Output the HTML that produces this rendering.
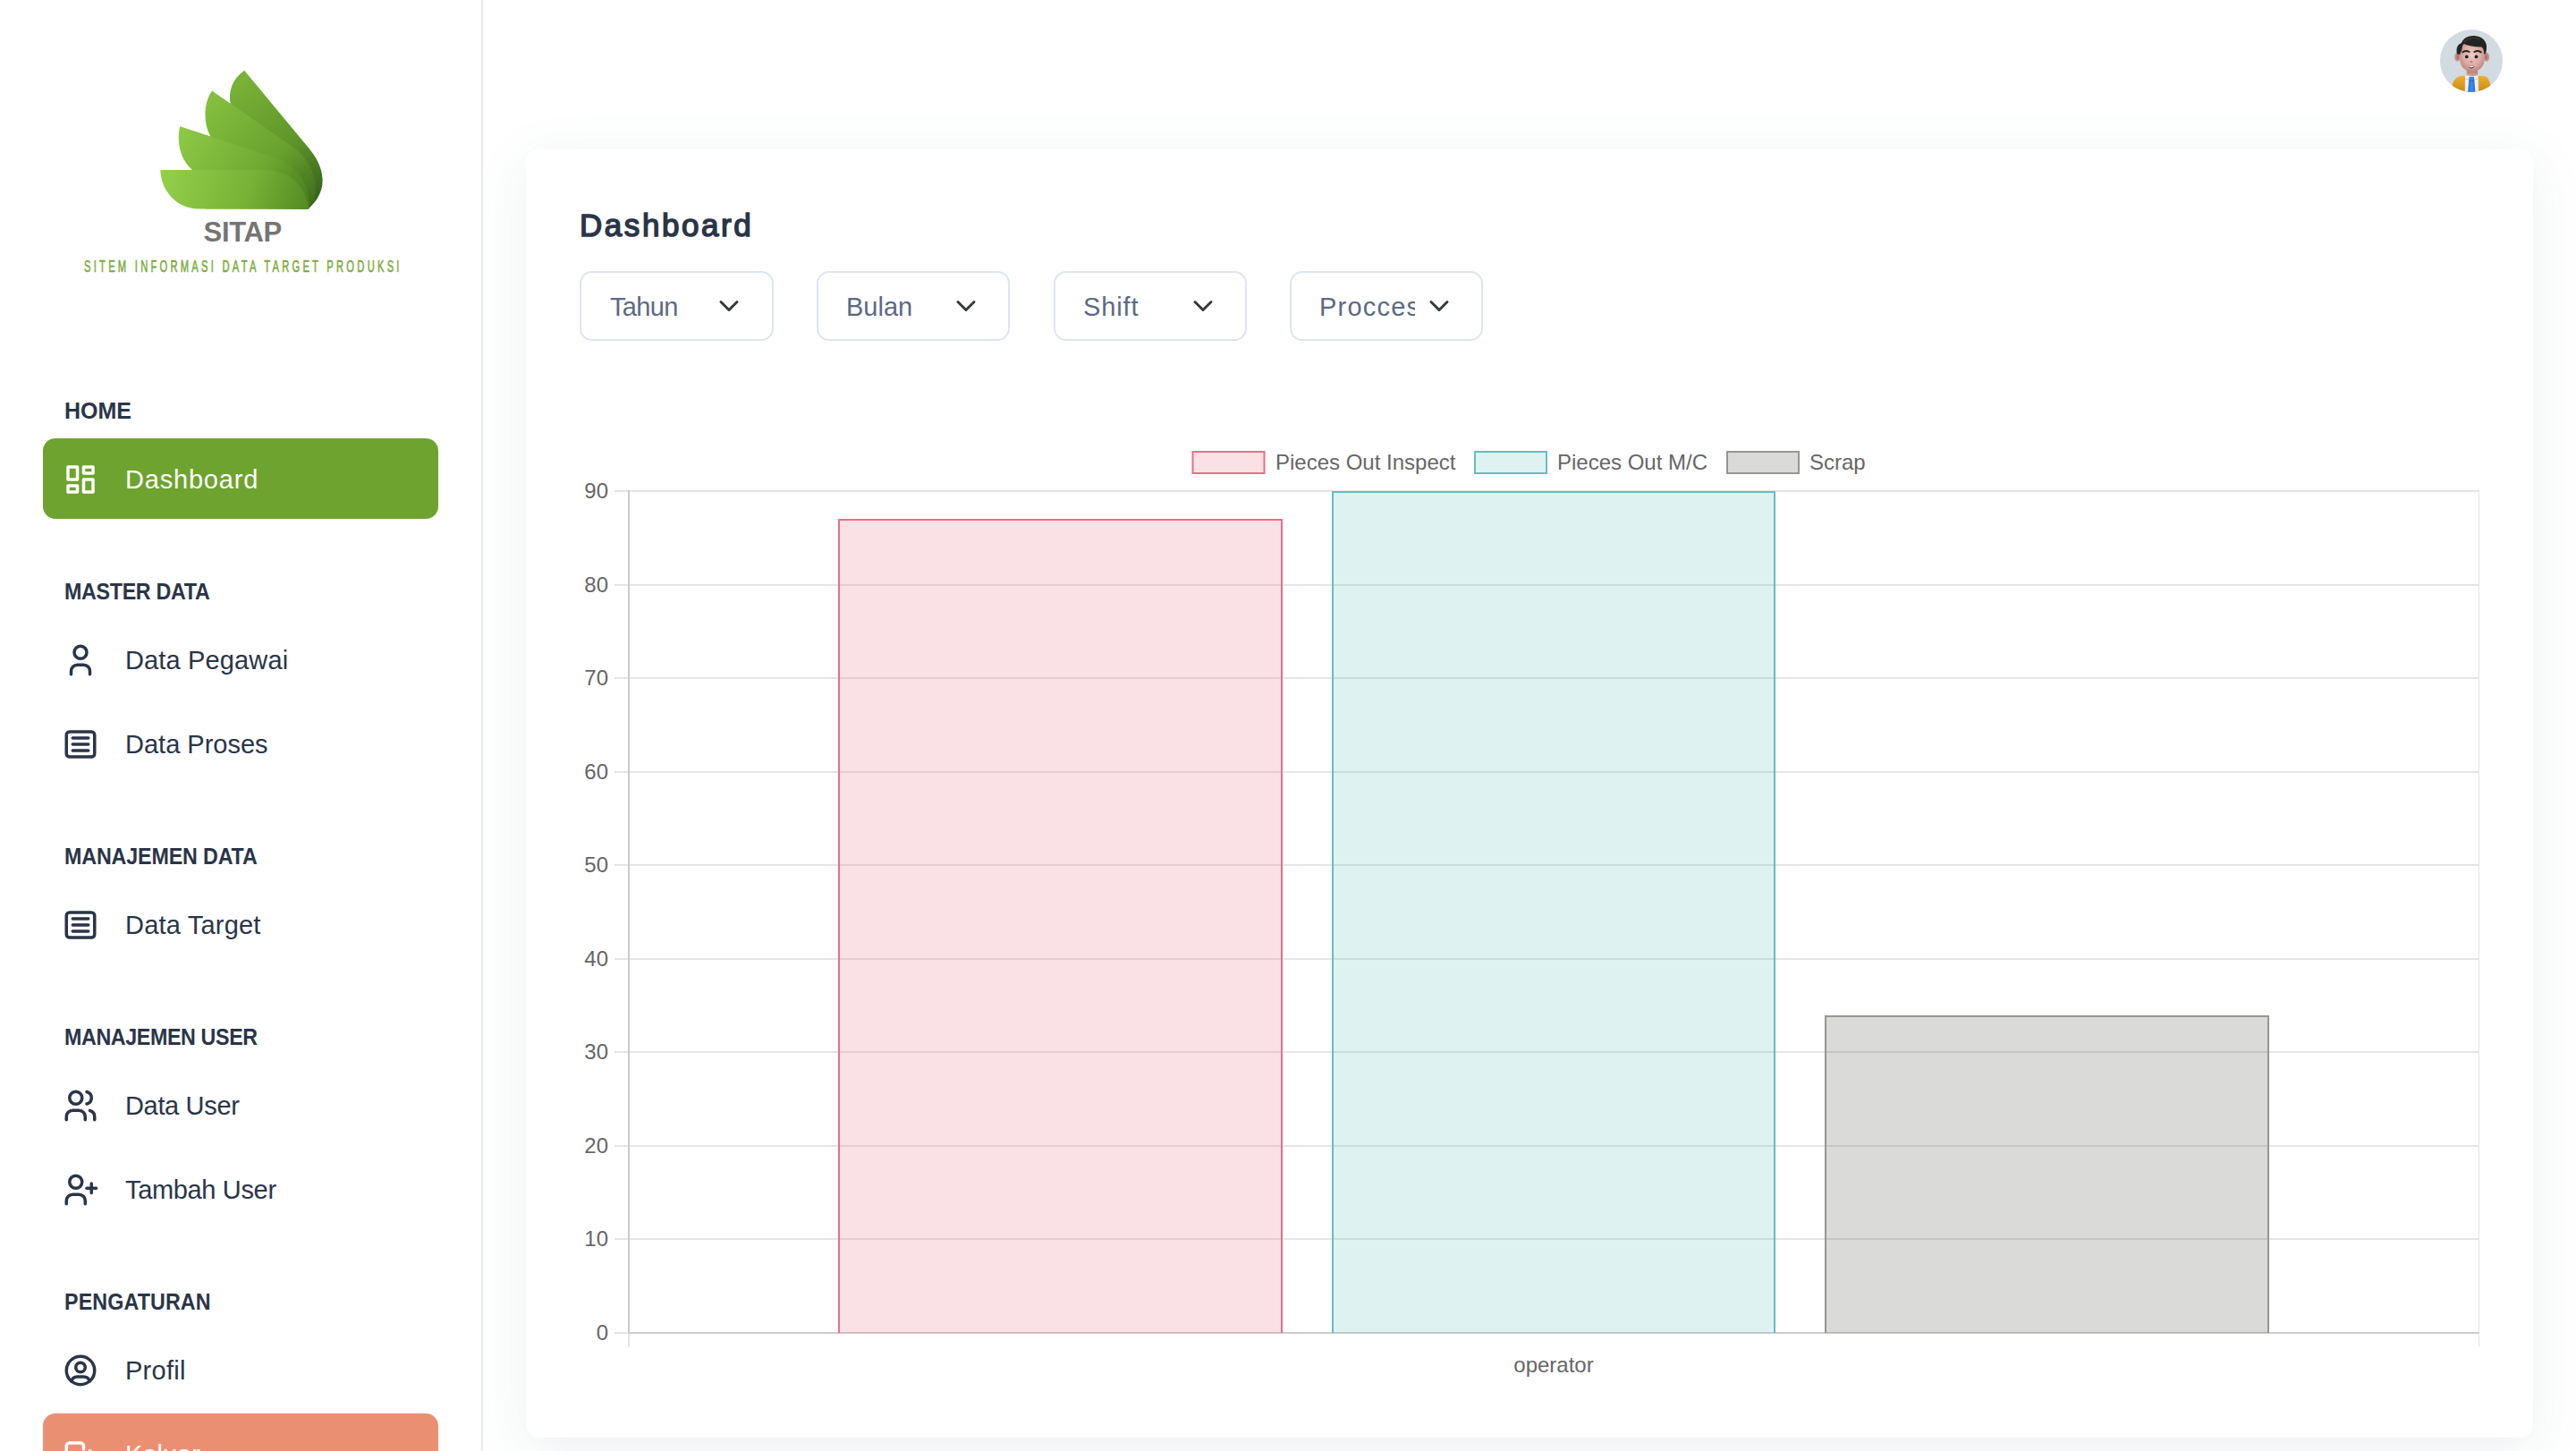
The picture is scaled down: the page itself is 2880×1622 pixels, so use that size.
<!DOCTYPE html>
<html lang="id">
<head>
<meta charset="utf-8">
<title>SITAP - Dashboard</title>
<style>
*{box-sizing:border-box;margin:0;padding:0}
html,body{width:2880px;height:1622px;overflow:hidden;background:#fff}
body{position:relative;font-family:"Liberation Sans",sans-serif;color:#2a3547}
.abs{position:absolute}
#sidebar{position:absolute;left:0;top:0;width:540px;height:1622px;border-right:2px solid #e5eaef;background:#fff;overflow:hidden}
.t{position:absolute;white-space:nowrap;line-height:1}
.cap{font-weight:700;font-size:25px;left:72px;color:#2a3547}
.item{position:absolute;left:48px;width:442px;height:90px;border-radius:14px}
.item svg{position:absolute;left:20.500px;top:24px;width:42px;height:42px;fill:none;stroke:#2a3547;stroke-width:2;stroke-linecap:round;stroke-linejoin:round}
.item .t{left:92px;top:31px;font-size:29px;color:#2a3547}
.item.active{background:#6ea32f}
.item.out{background:#eb8f73}
.item.active svg,.item.out svg{stroke:#fff}
.item.active .t,.item.out .t{color:#fff}
#card{position:absolute;left:588px;top:167px;width:2244px;height:1440px;border-radius:14px;background:#fff;box-shadow:0 14px 60px 0 rgba(90,114,123,.11)}
.sel{position:absolute;top:303px;width:216px;height:78px;border:2px solid #dfe5ef;border-radius:14px;background:#fff;overflow:hidden}
.sel .t{left:31px;top:24px;font-size:29px;color:#5a6a85}
.sel .clip{position:absolute;left:0;top:0;width:138px;height:74px;overflow:hidden}
.sel svg{position:absolute;left:150px;top:26px;width:30px;height:22px;fill:none;stroke:#343a40;stroke-width:3;stroke-linecap:round;stroke-linejoin:round}
</style>
</head>
<body>

<!-- ============ SIDEBAR ============ -->
<div id="sidebar">
  <svg class="abs" id="logo" style="left:170px;top:70px" width="200" height="170" viewBox="170 70 200 170">
    <defs>
      <linearGradient id="g4" gradientUnits="userSpaceOnUse" x1="262" y1="95" x2="352" y2="228"><stop offset="0" stop-color="#79b236"/><stop offset=".55" stop-color="#5f962a"/><stop offset="1" stop-color="#35601a"/></linearGradient>
      <linearGradient id="g3" gradientUnits="userSpaceOnUse" x1="232" y1="115" x2="345" y2="230"><stop offset="0" stop-color="#84bf3e"/><stop offset=".6" stop-color="#69a12e"/><stop offset="1" stop-color="#3f6f1c"/></linearGradient>
      <linearGradient id="g2" gradientUnits="userSpaceOnUse" x1="203" y1="150" x2="340" y2="232"><stop offset="0" stop-color="#8cc845"/><stop offset=".6" stop-color="#70a932"/><stop offset="1" stop-color="#4a7f20"/></linearGradient>
      <linearGradient id="g1" gradientUnits="userSpaceOnUse" x1="185" y1="192" x2="335" y2="240"><stop offset="0" stop-color="#92cf49"/><stop offset=".6" stop-color="#78b236"/><stop offset="1" stop-color="#578f25"/></linearGradient>
    </defs>
    <path fill="url(#g4)" d="M273.2 78.8L346 166.5C358 181 363 197 359.5 211C356.5 221 351 228 344.5 233.4L300 233L257.6 116C255 102 260 88 273.2 78.8Z"/>
    <path fill="url(#g3)" d="M237 101.6L328 164.5C348 179 357 204 351 224L344.5 233.4L260 233L235 152C227.500 138 227 116 237 101.6Z"/>
    <path fill="url(#g2)" d="M201.2 141.2L305 175.5C333 185 348 208 345.5 233.4L230 233.4L214 189C202 178 197 160 201.2 141.2Z"/>
    <path fill="url(#g1)" d="M179.3 190L296 190C325 190 343 210 344.5 233.4L222 233.4C198 233.4 180 214 179.3 190Z"/>
  </svg>
  <div class="t" id="brand" style="left:227.500px;top:244px;font-size:31px;font-weight:700;color:#757575;letter-spacing:-.3px">SITAP</div>
  <div class="t" id="tag" style="left:94px;top:289px;font-size:18px;color:#7aaa3a;-webkit-text-stroke:.55px #7aaa3a;letter-spacing:5.26px;transform-origin:0 0;transform:scaleX(.62)">SITEM INFORMASI DATA TARGET PRODUKSI</div>

  <div class="t cap" id="c1" style="top:447px">HOME</div>
  <div class="item active" style="top:490px">
    <svg viewBox="0 0 24 24" style="top:25px"><path d="M4 4h6v8h-6z"/><path d="M4 16h6v4h-6z"/><path d="M14 12h6v8h-6z"/><path d="M14 4h6v4h-6z"/></svg>
    <span class="t" id="i1" style="letter-spacing:.8px;top:32px">Dashboard</span>
  </div>

  <div class="t cap" id="c2" style="top:649px;letter-spacing:-.33px;transform-origin:0 0;transform:scaleX(.93)">MASTER DATA</div>
  <div class="item" style="top:693px">
    <svg viewBox="0 0 24 24"><circle cx="12" cy="7" r="4"/><path d="M6 21v-2a4 4 0 0 1 4 -4h4a4 4 0 0 1 4 4v2"/></svg>
    <span class="t" id="i2" style="letter-spacing:.14px">Data Pegawai</span>
  </div>
  <div class="item" style="top:787px">
    <svg viewBox="0 0 24 24"><rect x="3" y="4" width="18" height="16" rx="2"/><path d="M7 8h10"/><path d="M7 12h10"/><path d="M7 16h10"/></svg>
    <span class="t" id="i3">Data Proses</span>
  </div>

  <div class="t cap" id="c3" style="top:945px;letter-spacing:-.14px;transform-origin:0 0;transform:scaleX(.93)">MANAJEMEN DATA</div>
  <div class="item" style="top:989px">
    <svg viewBox="0 0 24 24"><rect x="3" y="4" width="18" height="16" rx="2"/><path d="M7 8h10"/><path d="M7 12h10"/><path d="M7 16h10"/></svg>
    <span class="t" id="i4" style="letter-spacing:.2px">Data Target</span>
  </div>

  <div class="t cap" id="c4" style="top:1147px;letter-spacing:-.4px;transform-origin:0 0;transform:scaleX(.93)">MANAJEMEN USER</div>
  <div class="item" style="top:1191px">
    <svg viewBox="0 0 24 24"><circle cx="9" cy="7" r="4"/><path d="M3 21v-2a4 4 0 0 1 4 -4h4a4 4 0 0 1 4 4v2"/><path d="M16 3.13a4 4 0 0 1 0 7.75"/><path d="M21 21v-2a4 4 0 0 0 -3 -3.85"/></svg>
    <span class="t" id="i5" style="letter-spacing:-.34px">Data User</span>
  </div>
  <div class="item" style="top:1285px">
    <svg viewBox="0 0 24 24"><circle cx="9" cy="7" r="4"/><path d="M3 21v-2a4 4 0 0 1 4 -4h4a4 4 0 0 1 4 4v2"/><path d="M16 11h6"/><path d="M19 8v6"/></svg>
    <span class="t" id="i6" style="letter-spacing:-.34px">Tambah User</span>
  </div>

  <div class="t cap" id="c5" style="top:1443px;letter-spacing:.15px;transform-origin:0 0;transform:scaleX(.93)">PENGATURAN</div>
  <div class="item" style="top:1487px">
    <svg viewBox="0 0 24 24"><circle cx="12" cy="12" r="9"/><circle cx="12" cy="10" r="3"/><path d="M6.168 18.849a4 4 0 0 1 3.832 -2.849h4a4 4 0 0 1 3.834 2.855"/></svg>
    <span class="t" id="i7" style="letter-spacing:.25px">Profil</span>
  </div>
  <div class="item out" style="top:1580px">
    <svg viewBox="0 0 24 24" style="top:26px"><path d="M14 8v-2a2 2 0 0 0 -2 -2h-7a2 2 0 0 0 -2 2v12a2 2 0 0 0 2 2h7a2 2 0 0 0 2 -2v-2"/><path d="M9 12h12l-3 -3"/><path d="M18 15l3 -3"/></svg>
    <span class="t" id="i8" style="top:32px">Keluar</span>
  </div>
</div>

<!-- ============ AVATAR ============ -->
<svg class="abs" id="avatar" style="left:2728px;top:33px" width="70" height="70" viewBox="0 0 70 70">
  <defs>
    <clipPath id="avc"><circle cx="35" cy="35" r="35"/></clipPath>
    <radialGradient id="avf" cx=".5" cy=".42" r=".62"><stop offset="0" stop-color="#eccbc4"/><stop offset=".6" stop-color="#d9aaa1"/><stop offset="1" stop-color="#b6837b"/></radialGradient>
    <linearGradient id="avj" x1="0" y1="0" x2="0" y2="1"><stop offset="0" stop-color="#eeb02a"/><stop offset="1" stop-color="#c98a17"/></linearGradient>
    <linearGradient id="avn" x1="0" y1="0" x2="0" y2="1"><stop offset="0" stop-color="#a9786f"/><stop offset="1" stop-color="#d2a399"/></linearGradient>
    <linearGradient id="avt" x1="0" y1="0" x2="1" y2="0"><stop offset="0" stop-color="#2a6fd0"/><stop offset=".5" stop-color="#3b8bee"/><stop offset="1" stop-color="#2a6fd0"/></linearGradient>
  </defs>
  <g clip-path="url(#avc)">
    <rect width="70" height="70" fill="#d2dae2"/>
    <path d="M13 63C15 57 18 53.500 21 52.500L27.500 51.500L42.500 51.500L51 52.500C54 54 55.500 58 56.500 63L57 70H12.500Z" fill="url(#avj)"/>
    <path d="M27.300 51.500C31 50.500 39 50.500 43.300 51.500L43.500 70H27.500Z" fill="#f1f0ee"/>
    <path d="M27.500 55.500h16" stroke="#cfcfcf" stroke-width=".9"/>
    <path d="M27.600 52v18M43.200 52v18" stroke="#b98216" stroke-width=".8" opacity=".7"/>
    <path d="M32.700 52.800h5.200l.5 4.400l1 12.800h-8.300l1.100-12.800z" fill="url(#avt)"/>
    <path d="M32.400 57.200h5.900" stroke="#1f5cb4" stroke-width=".8"/>
    <path d="M30 45h12l.4 6.200q-6.400 1.600-12.800 0z" fill="url(#avn)"/>
    <ellipse cx="19.300" cy="30.700" rx="3" ry="5" fill="#c48f85"/><ellipse cx="52" cy="30.700" rx="3" ry="5" fill="#c48f85"/>
    <ellipse cx="19.900" cy="30.900" rx="1.400" ry="3" fill="#a8736b"/><ellipse cx="51.500" cy="30.900" rx="1.400" ry="3" fill="#a8736b"/>
    <path d="M22 18C22 13 49.800 13 49.800 18L49.800 33C49.800 40 44 47.500 36 47.500C28 47.500 22 40 22 33Z" fill="url(#avf)"/>
    <path d="M19 27.500C17.500 20 20 16.500 24 15C26 9 33 6 40 7.200C47 8 52.500 13 52 20C52 23 51.500 25.500 50.500 27.500L49.200 27.500C49.500 24 48.500 21 46.500 19.500C40 19.800 32 18.500 26.500 16C24.500 18 24.800 21 24.300 23C23.500 24.500 22.600 26 22.300 28Z" fill="#232323"/>
    <path d="M27 13.500C31 9.500 38 8.500 44 10.500" stroke="#4a4a4a" stroke-width="1.200" fill="none" stroke-linecap="round" opacity=".7"/>
    <path d="M25.300 25.300Q29 23 32.600 25M38.400 25Q42 23 45.800 25.300" stroke="#262626" stroke-width="2" fill="none" stroke-linecap="round"/>
    <circle cx="29.800" cy="30.400" r="1.850" fill="#1e1e1e"/><circle cx="40.500" cy="30.400" r="1.850" fill="#1e1e1e"/>
    <ellipse cx="34.800" cy="36" rx="1.700" ry="1.300" fill="#c08a80"/>
    <path d="M31.400 41.300Q35.100 40.200 38.800 41.300Q35.100 46 31.400 41.300Z" fill="#7d3f3a"/>
    <path d="M32 41.350Q35.100 40.600 38.200 41.350Q35.100 43.200 32 41.350Z" fill="#fff"/>
  </g>
</svg>

<!-- ============ CARD ============ -->
<div id="card"></div>
<div class="t" id="title" style="left:648px;top:234px;font-size:35px;font-weight:400;color:#2a3547;-webkit-text-stroke:1.500px #2a3547;letter-spacing:2.550px">Dashboard</div>

<div class="sel" style="left:648px;width:217px"><div class="clip"><span class="t" id="s1" style="letter-spacing:-.65px;left:32px">Tahun</span></div><svg viewBox="0 0 30 22"><path d="M6 6.5l9 9l9 -9"/></svg></div>
<div class="sel" style="left:913px"><div class="clip"><span class="t" id="s2">Bulan</span></div><svg viewBox="0 0 30 22"><path d="M6 6.5l9 9l9 -9"/></svg></div>
<div class="sel" style="left:1178px"><div class="clip"><span class="t" id="s3" style="letter-spacing:.9px">Shift</span></div><svg viewBox="0 0 30 22"><path d="M6 6.5l9 9l9 -9"/></svg></div>
<div class="sel" style="left:1442px"><div class="clip"><span class="t" id="s4" style="letter-spacing:1.200px">Procces</span></div><svg viewBox="0 0 30 22"><path d="M6 6.5l9 9l9 -9"/></svg></div>

<!-- ============ CHART ============ -->
<svg class="abs" id="chart" style="left:0;top:0;pointer-events:none" width="2880" height="1622" viewBox="0 0 2880 1622" font-family="'Liberation Sans',sans-serif" font-size="24" fill="#666">
<g stroke="#e5e5e5" stroke-width="2" fill="none"><path d="M687 549H2772"/><path d="M687 654H2772"/><path d="M687 758H2772"/><path d="M687 863H2772"/><path d="M687 967H2772"/><path d="M687 1072H2772"/><path d="M687 1176H2772"/><path d="M687 1281H2772"/><path d="M687 1385H2772"/><path d="M687 1490H2772"/><path d="M703 548V1506"/><path d="M2771.500 548V1506" stroke-width="1"/></g>
<g stroke="#cbcbcb" stroke-width="2" fill="none"><path d="M703 548V1491"/><path d="M702 1490H2772"/></g>
<rect x="937" y="580" width="497" height="910" fill="rgba(230,105,130,.2)"/>
<path d="M938 1490V581H1433V1490" fill="none" stroke="#ed6d85" stroke-width="2"/>
<rect x="1489" y="549" width="496" height="941" fill="rgba(95,190,190,.2)"/>
<path d="M1490 1490V550H1984V1490" fill="none" stroke="#68bcbd" stroke-width="2"/>
<rect x="2040" y="1135" width="497" height="355" fill="rgba(69,69,64,.2)"/>
<path d="M2041 1490V1136H2536V1490" fill="none" stroke="rgb(150,150,146)" stroke-width="2"/>
<text x="680" y="557.4" text-anchor="end">90</text>
<text x="680" y="662.4" text-anchor="end">80</text>
<text x="680" y="766.4" text-anchor="end">70</text>
<text x="680" y="871.4" text-anchor="end">60</text>
<text x="680" y="975.4" text-anchor="end">50</text>
<text x="680" y="1080.4" text-anchor="end">40</text>
<text x="680" y="1184.4" text-anchor="end">30</text>
<text x="680" y="1289.4" text-anchor="end">20</text>
<text x="680" y="1393.4" text-anchor="end">10</text>
<text x="680" y="1498.4" text-anchor="end">0</text>
<text x="1737.0" y="1534" text-anchor="middle">operator</text>
<rect x="1333.500" y="505" width="80" height="24" fill="rgba(230,105,130,.2)" stroke="#ed6d85" stroke-width="2"/>
<text x="1426" y="525">Pieces Out Inspect</text>
<rect x="1649" y="505" width="80" height="24" fill="rgba(95,190,190,.2)" stroke="#68bcbd" stroke-width="2"/>
<text x="1741" y="525">Pieces Out M/C</text>
<rect x="1931" y="505" width="80" height="24" fill="rgba(69,69,64,.2)" stroke="rgb(150,150,146)" stroke-width="2"/>
<text x="2023" y="525">Scrap</text>
</svg>

</body>
</html>
